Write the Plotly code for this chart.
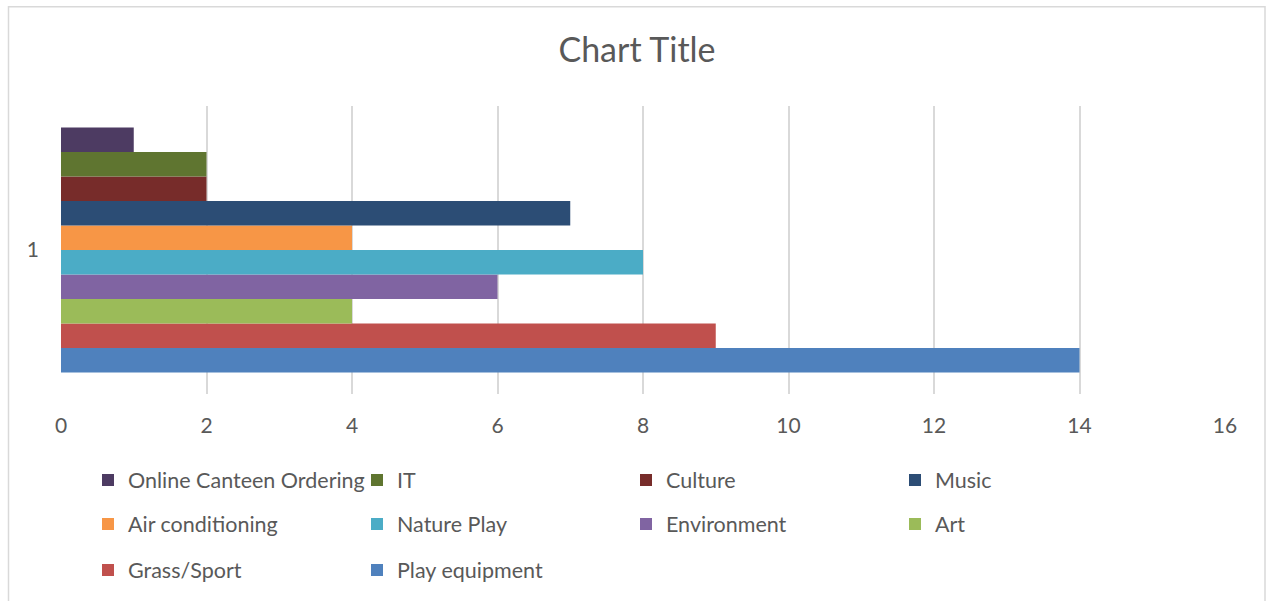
import plotly.graph_objects as go

category = ["1"]
series_names = ["Play equipment", "Grass/Sport", "Art", "Environment", "Nature Play",
                "Air conditioning", "Music", "Culture", "IT", "Online Canteen Ordering"]
series_values = [14, 9, 4, 6, 8, 4, 7, 2, 2, 1]
series_colors = ["#4F81BD", "#C0504D", "#9BBB59", "#8064A2", "#4BACC6",
                 "#F79646", "#2C4D75", "#772C2A", "#5F7530", "#4D3B62"]
legend_groups = ["legend3", "legend3", "legend2", "legend2", "legend2",
                 "legend2", "legend", "legend", "legend", "legend"]
x_ticks = [0, 2, 4, 6, 8, 10, 12, 14, 16]

FONT = "Lato"
TXT = "#595959"

fig = go.Figure()
for name, val, col, lg in zip(series_names, series_values, series_colors, legend_groups):
    fig.add_trace(go.Bar(
        y=category, x=[val], name=name, orientation="h",
        marker=dict(color=col, line=dict(width=0)),
        legend=lg,
    ))

W, H = 1266, 601
ml, mr, mt, mb = 61, 41, 106, 206
pw, ph = W - ml - mr, H - mt - mb

def px_x(p):
    return (p - ml) / pw

def px_y(p):
    return (H - mb - p) / ph

leg_common = dict(orientation="h", traceorder="reversed", entrywidth=224,
                  entrywidthmode="pixels", font=dict(family=FONT, size=21.5, color=TXT),
                  bgcolor="rgba(0,0,0,0)", xanchor="left", yanchor="middle",
                  itemclick=False, itemdoubleclick=False)

fig.update_layout(
    width=W, height=H,
    margin=dict(l=ml, r=mr, t=mt, b=mb),
    paper_bgcolor="white", plot_bgcolor="white",
    font=dict(family=FONT, color=TXT),
    title=dict(text="Chart Title", x=px_x(637), xref="paper", xanchor="center",
               y=1 - 50 / H, yanchor="middle",
               font=dict(family=FONT, size=34, color=TXT)),
    barmode="group", bargap=0.149, bargroupgap=0,
    showlegend=True,
    legend=dict(x=px_x(88), y=px_y(480), **leg_common),
    legend2=dict(x=px_x(88), y=px_y(524), **leg_common),
    legend3=dict(x=px_x(88), y=px_y(570), **leg_common),
    xaxis=dict(range=[0, 16], tickvals=x_ticks, showgrid=True, gridcolor="#D9D9D9",
               gridwidth=1.5, zeroline=False, showline=False,
               tickfont=dict(family=FONT, size=21, color=TXT), ticklabelstandoff=17,
               fixedrange=True),
    yaxis=dict(type="category", showgrid=False, zeroline=False, showline=False,
               tickfont=dict(family=FONT, size=21, color=TXT), ticklabelstandoff=21,
               fixedrange=True),
    shapes=[dict(type="rect", xref="paper", yref="paper",
                 x0=px_x(8.5), x1=px_x(1265), y0=px_y(6.5), y1=px_y(620),
                 line=dict(color="#D9D9D9", width=1.5), layer="below")],
)

fig.write_html("out.html", config={"displayModeBar": False},
               post_script="document.body.style.margin='0';document.body.style.overflow='hidden';")
